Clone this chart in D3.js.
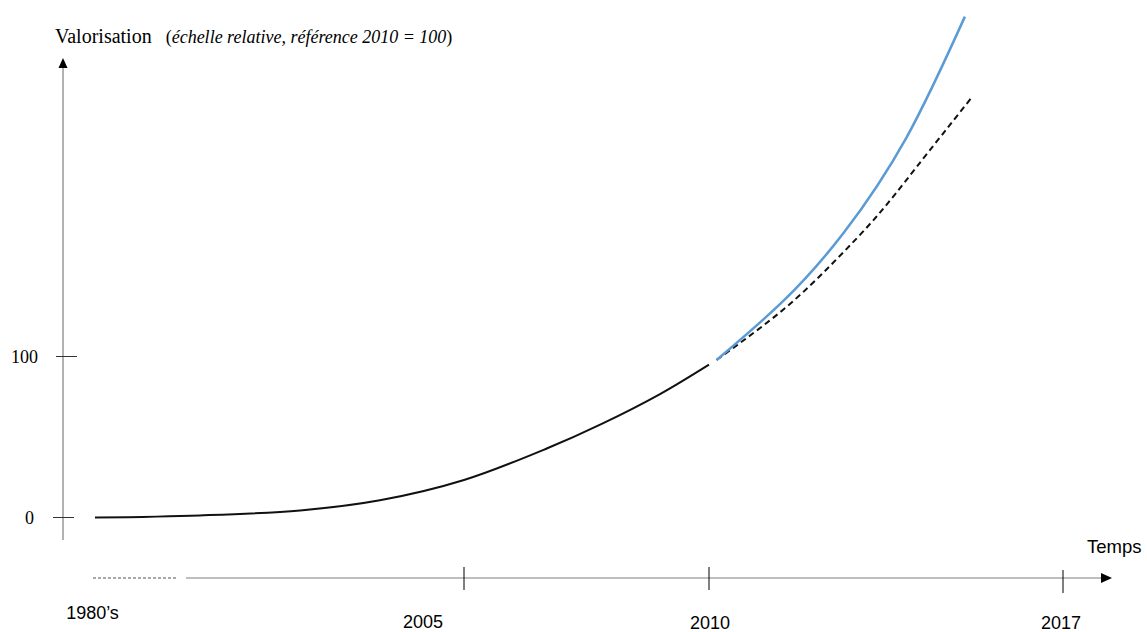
<!DOCTYPE html>
<html>
<head>
<meta charset="utf-8">
<script src="https://cdn.jsdelivr.net/npm/d3@7"></script>
<style>
  body { margin: 0; background: #fff; }
  svg { display: block; }
</style>
</head>
<body>
<svg></svg>
<script>
//Chart size matches the browser window.
var w = 1147;
var h = 632;

//Years along the time axis (uneven spacing, as drawn) and their labels.
var yearTicks = [2005, 2010, 2017];
var yearLabels = ["1980\u2019s", "2005", "2010", "2017"];
var labelYears = [1980, 2005, 2010, 2017];

//Value ticks on the vertical axis.
var valueTicks = [0, 100];

//Historic curve, up to 2010 (solid black).
var histYears  = [1980, 1987.1, 1993.9, 1999.3, 2005, 2006.7, 2007.8, 2009.0, 2010.0];
var histValues = [0, 1.3, 4.4, 10.7, 23.3, 43, 58, 76.7, 95];

//Blue projection after 2010.
var blueYears  = [2010.15, 2011.47, 2012.66, 2013.91, 2015.06];
var blueValues = [97.8, 134.5, 176.7, 236.3, 311.1];

//Dashed projection after 2010.
var dashYears  = [2010.15, 2011.46, 2012.45, 2013.31, 2014.11, 2015.19];
var dashValues = [97.8, 128.9, 158.1, 186.8, 217.9, 260.7];

var svg = d3.select("svg").attr("width", w).attr("height", h);

//Piecewise time scale: the drawing squeezes the 1980s-2005 stretch.
var x = d3.scaleLinear()
  .domain([1980, 2005, 2010, 2017])
  .range([95, 464, 709, 1063]);

var y = d3.scaleLinear()
  .domain([0, 100])
  .range([517.5, 356.5]);

var axisColor = "#7f7f7f";
var axisY = 578;
var yAxisX = 63;

//Vertical axis line and arrow.
svg.append("line")
  .attr("x1", yAxisX).attr("x2", yAxisX)
  .attr("y1", 540).attr("y2", 67)
  .attr("stroke", axisColor).attr("stroke-width", 1.2);
svg.append("path")
  .attr("d", d3.line()([[yAxisX, 58], [yAxisX - 4.5, 68], [yAxisX + 4.5, 68]]) + "Z")
  .attr("fill", "#000");

//Value ticks and labels.
svg.append("g").selectAll("line")
  .data(valueTicks)
  .enter().append("line")
    .attr("x1", d => d == 0 ? 53 : 56)
    .attr("x2", d => d == 0 ? 74 : 77)
    .attr("y1", d => y(d)).attr("y2", d => y(d))
    .attr("stroke", "#333").attr("stroke-width", 1);
svg.append("g").selectAll("text")
  .data(valueTicks)
  .enter().append("text")
    .text(d => d)
    .attr("x", d => d == 0 ? 34 : 38)
    .attr("y", d => y(d) + 6)
    .attr("text-anchor", "end")
    .attr("font-family", "Liberation Serif, Times New Roman, serif")
    .attr("font-size", 18)
    .attr("fill", "#000");

//Axis title.
var title = svg.append("text")
  .attr("x", 55).attr("y", 43)
  .attr("font-family", "Liberation Serif, Times New Roman, serif")
  .attr("font-size", 20)
  .attr("fill", "#000");
title.append("tspan").text("Valorisation");
title.append("tspan").attr("dx", 14).attr("font-size", 18).text("(");
title.append("tspan").attr("font-size", 18).attr("font-style", "italic")
  .text("\u00e9chelle relative, r\u00e9f\u00e9rence 2010 = 100");
title.append("tspan").attr("font-size", 18).text(")");

//Time axis: dashed early part, then solid line with arrow.
svg.append("line")
  .attr("x1", 93).attr("x2", 178)
  .attr("y1", axisY).attr("y2", axisY)
  .attr("stroke", "#555").attr("stroke-width", 1.2)
  .attr("stroke-dasharray", "3,2");
svg.append("line")
  .attr("x1", 186).attr("x2", 1102)
  .attr("y1", axisY).attr("y2", axisY)
  .attr("stroke", axisColor).attr("stroke-width", 1.2);
svg.append("path")
  .attr("d", d3.line()([[1112, axisY], [1101, axisY - 5], [1101, axisY + 5]]) + "Z")
  .attr("fill", "#000");

svg.append("g").selectAll("line")
  .data(yearTicks)
  .enter().append("line")
    .attr("x1", d => x(d)).attr("x2", d => x(d))
    .attr("y1", d => d == 2017 ? 570 : 567)
    .attr("y2", d => d == 2017 ? 593 : 590)
    .attr("stroke", "#000").attr("stroke-width", 1);

//Year labels, placed as in the drawing (not centred on every tick).
var labelOffsets = [{dx: -2.5, y: 619}, {dx: -41, y: 628}, {dx: 1, y: 629}, {dx: -2, y: 629}];
svg.append("g").selectAll("text")
  .data(labelYears)
  .enter().append("text")
    .text((d, i) => yearLabels[i])
    .attr("x", (d, i) => x(d) + labelOffsets[i].dx)
    .attr("y", (d, i) => labelOffsets[i].y)
    .attr("text-anchor", "middle")
    .attr("font-family", "Liberation Sans, Arial, sans-serif")
    .attr("font-size", 18)
    .attr("fill", "#000");

svg.append("text")
  .text("Temps")
  .attr("x", 1087).attr("y", 553)
  .attr("font-family", "Liberation Sans, Arial, sans-serif")
  .attr("font-size", 18.5)
  .attr("fill", "#000");

//Curves: the historic one follows its points, the projections are smooth splines.
var line = d3.line()
  .x(d => x(d[0]))
  .y(d => y(d[1]))
  .curve(d3.curveCatmullRom.alpha(0.5));
var smooth = d3.line()
  .x(d => x(d[0]))
  .y(d => y(d[1]))
  .curve(d3.curveNatural);

svg.append("path")
  .attr("d", line(d3.zip(histYears, histValues)))
  .attr("fill", "none")
  .attr("stroke", "#111")
  .attr("stroke-width", 2);

svg.append("path")
  .attr("d", smooth(d3.zip(dashYears, dashValues)))
  .attr("fill", "none")
  .attr("stroke", "#111")
  .attr("stroke-width", 2)
  .attr("stroke-dasharray", "6,4");

svg.append("path")
  .attr("d", smooth(d3.zip(blueYears, blueValues)))
  .attr("fill", "none")
  .attr("stroke", "#5b9bd5")
  .attr("stroke-width", 2.5);
</script>
</body>
</html>
